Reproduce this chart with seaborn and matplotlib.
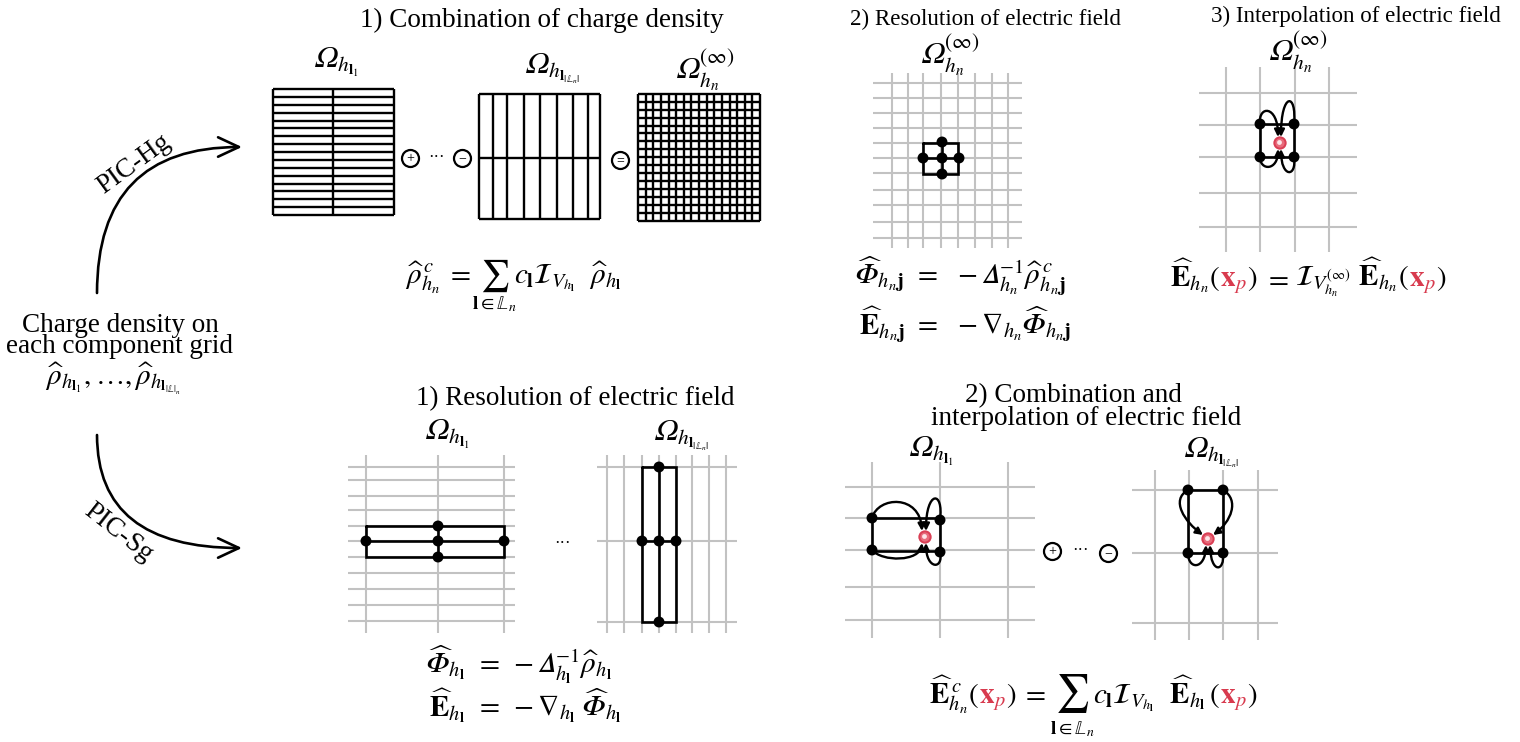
import matplotlib
matplotlib.use("Agg")
import matplotlib.pyplot as plt
import seaborn as sns
from matplotlib.path import Path
from matplotlib.patches import FancyArrowPatch

# ---------------- diagram data (reference pixel space, y down) ----------------
# 1) combination of charge density: three component grids
hg1_cols = [273, 333, 394]
hg1_rows = [89, 97, 105, 113, 121, 128, 136, 144, 152, 160, 168, 176, 184, 191, 199, 207, 215]
hg2_cols = [479, 493, 507, 524, 540, 557, 573, 588, 600]
hg2_rows = [94, 158, 219]
hg3_cols = [638, 646, 653, 661, 669, 676, 684, 691, 699, 707, 714, 722, 730, 737, 745, 752, 760]
hg3_rows = [94, 102, 110, 118, 126, 133, 141, 149, 157, 165, 173, 181, 189, 197, 205, 213, 221]

# 2) resolution on the full grid
res_cols = [892, 908, 923, 941, 958, 975, 992, 1008]
res_rows = [83, 98, 113, 128, 143, 158, 173, 190, 205, 222, 238]
res_node_x = [942, 942, 942, 923, 959]
res_node_y = [142, 158, 174, 158, 158]

# 3) interpolation on the full grid
int_cols = [1226, 1260, 1295, 1329]
int_rows = [93, 125, 157, 193, 227]
int_node_x = [1260, 1294, 1260, 1294]
int_node_y = [124, 124, 157, 157]
int_particle = (1280, 143)

# PIC-Sg 1) resolution on each component grid
sg1_cols = [366, 438, 504]
sg1_rows = [467, 480, 496, 510, 526, 541, 557, 573, 589, 605, 621]
sg1_node_x = [366, 438, 504, 438, 438]
sg1_node_y = [541, 541, 541, 526, 557]
sg2_cols = [607, 624, 642, 659, 676, 692, 709, 726]
sg2_rows = [467, 541, 622]
sg2_node_x = [659, 642, 659, 676, 659]
sg2_node_y = [467, 541, 541, 541, 622]

# PIC-Sg 2) combination + interpolation
ci1_cols = [872, 940, 1008]
ci1_rows = [487, 518, 550, 587, 620]
ci1_node_x = [872, 940, 872, 940]
ci1_node_y = [518, 520, 550, 552]
ci1_particle = (925, 537)
ci2_cols = [1155, 1189, 1223, 1258]
ci2_rows = [490, 553, 623]
ci2_node_x = [1188, 1223, 1188, 1223]
ci2_node_y = [490, 490, 553, 553]
ci2_particle = (1208, 539)

titles = ["1) Combination of charge density", "2) Resolution of electric field",
          "3) Interpolation of electric field", "1) Resolution of electric field",
          "2) Combination and", "interpolation of electric field"]
source_text = "Charge density on\neach component grid"

OM = "\U0001D6FA"   # italic capital omega
PH = "\U0001D6F7"   # italic capital phi
DL = "\U0001D6E5"   # italic capital delta

INK = "black"
GREY = "#c2c2c2"
RED = "#d83a4e"

sns.set_theme(style="white")
plt.rcParams["font.family"] = ["Liberation Serif", "DejaVu Serif"]
plt.rcParams["mathtext.fontset"] = "stix"
plt.rcParams["text.color"] = "black"

fig = plt.figure(figsize=(15.2, 7.42), dpi=100)
ax = fig.add_axes([0, 0, 1, 1])
ax.set_xlim(0, 1520)
ax.set_ylim(742, 0)
ax.axis("off")

TS = 19.5
FS = 21
OS = 22


def grid(cols, rows, xspan, yspan, color, lw):
    ax.vlines(cols, yspan[0], yspan[1], color=color, lw=lw, zorder=1)
    ax.hlines(rows, xspan[0], xspan[1], color=color, lw=lw, zorder=1)


def nodes(xs, ys):
    sns.scatterplot(x=xs, y=ys, color=INK, s=62, edgecolor="none", legend=False, ax=ax, zorder=5)


def particle(p):
    ax.scatter([p[0]], [p[1]], s=92, color="#da3f55", zorder=6, edgecolor="none")
    ax.scatter([p[0]], [p[1]], s=44, color="#e86c7c", zorder=7, edgecolor="none")
    ax.scatter([p[0] - 0.5], [p[1] - 0.5], s=12, color="#fde6e9", zorder=8, edgecolor="none")


def box(x0, x1, y0, y1, lw=1.9):
    ax.plot([x0, x1, x1, x0, x0], [y0, y0, y1, y1, y0], color=INK, lw=lw, zorder=3,
            solid_joinstyle="miter")


def seg(xs, ys):
    ax.plot(xs, ys, color=INK, lw=1.9, zorder=3)


def curve(p0, c1, c2, p1):
    path = Path([p0, c1, c2, p1], [Path.MOVETO, Path.CURVE4, Path.CURVE4, Path.CURVE4])
    ax.add_patch(FancyArrowPatch(path=path, arrowstyle="-|>,head_length=0.6,head_width=0.3",
                                 mutation_scale=7, lw=1.7, color=INK, zorder=4))


def op(x, y, sym):
    ax.scatter([x], [y], s=150, facecolor="white", edgecolor=INK, linewidth=1.6, zorder=5)
    ax.text(x, y + 0.5, sym, fontsize=10, ha="center", va="center", zorder=6)


def P(s, c=INK, fs=FS, gap=0, dy=0, va="baseline"):
    return (s, c, fs, gap, dy, va)


def seg_text(x0, y, parts, ha="center"):
    objs = [ax.text(0, y + dy, s, color=c, fontsize=fs, va=va, ha="left")
            for s, c, fs, gap, dy, va in parts]
    r = fig.canvas.get_renderer()
    sx = ax.transData.transform((1, 0))[0] - ax.transData.transform((0, 0))[0]
    widths = [o.get_window_extent(r).width / sx for o in objs]
    gaps = [p[3] for p in parts]
    total = sum(widths) + sum(gaps)
    x = x0 - total / 2 if ha == "center" else x0
    spans = []
    for o, w, g in zip(objs, widths, gaps):
        x += g
        o.set_x(x)
        spans.append((x, w))
        x += w
    return spans


# ---------------- titles ----------------
ax.text(542, 27, titles[0], fontsize=TS, ha="center", va="baseline")
ax.text(985, 25, titles[1], fontsize=16.6, ha="center", va="baseline")
ax.text(1356, 22, titles[2], fontsize=16.6, ha="center", va="baseline")
ax.text(575, 405, titles[3], fontsize=TS, ha="center", va="baseline")
ax.text(1073, 402, titles[4], fontsize=TS, ha="center", va="baseline")
ax.text(1086, 425, titles[5], fontsize=TS, ha="center", va="baseline")

# ---------------- left: source + two routes ----------------
ax.text(120, 353, source_text, fontsize=TS, ha="center", va="baseline",
        multialignment="center", linespacing=0.8)
ax.text(113, 385, r"$\widehat{\rho}_{h_{\mathbf{l}_1}},\ldots,\widehat{\rho}_{h_{\mathbf{l}_{|\mathbb{L}|_n}}}$",
        fontsize=FS, ha="center", va="baseline")
arrow_kw = dict(arrowstyle="->,head_length=0.75,head_width=0.35", lw=1.9, color=INK,
                shrinkA=0, shrinkB=0, mutation_scale=20)
ax.annotate("", xy=(242, 147), xytext=(97, 293),
            arrowprops=dict(connectionstyle="angle3,angleA=90,angleB=0", **arrow_kw))
ax.annotate("", xy=(242, 548), xytext=(97, 435),
            arrowprops=dict(connectionstyle="angle3,angleA=90,angleB=0", **arrow_kw))
ax.text(134, 164, "PIC-Hg", fontsize=TS, rotation=36, ha="center", va="center")
ax.text(118, 533, "PIC-Sg", fontsize=TS, rotation=-38, ha="center", va="center")

# ---------------- PIC-Hg 1) combination ----------------
grid(hg1_cols, hg1_rows, (273, 394), (89, 215), INK, 1.7)
grid(hg2_cols, hg2_rows, (479, 600), (94, 219), INK, 1.7)
grid(hg3_cols, hg3_rows, (638, 760), (94, 221), INK, 1.7)
op(410, 158, "+")
ax.text(437, 158, "···", fontsize=12, ha="center", va="center")
op(462, 158, "−")
op(620, 160, "=")
ax.text(336, 68, r"$\mathrm{" + OM + r"}_{h_{\mathbf{l}_1}}$", fontsize=OS, ha="center", va="baseline")
ax.text(552, 73, r"$\mathrm{" + OM + r"}_{h_{\mathbf{l}_{|\mathbb{L}_n|}}}$", fontsize=OS, ha="center", va="baseline")
ax.text(705, 80, r"$\mathrm{" + OM + r"}^{(\infty)}_{h_n}$", fontsize=OS, ha="center", va="baseline")
sp = seg_text(513, 283, [P(r"$\widehat{\rho}^{\,c}_{h_n}\;=$"),
                         P(r"$\sum$", fs=23, gap=9, dy=-7, va="center"),
                         P(r"$c_{\mathbf{l}}\mathcal{I}_{V_{h_{\mathbf{l}}}}\ \ \widehat{\rho}_{h_{\mathbf{l}}}$", gap=4)])
ax.text(sp[1][0] + sp[1][1] / 2, 309, r"$\mathbf{l}\in\mathbb{L}_n$", fontsize=14, ha="center", va="baseline")

# ---------------- PIC-Hg 2) resolution ----------------
grid(res_cols, res_rows, (873, 1022), (73, 248), GREY, 1.5)
box(923, 958, 143, 174)
seg([923, 959], [158, 158])
seg([942, 942], [142, 174])
nodes(res_node_x, res_node_y)
ax.text(950, 65, r"$\mathrm{" + OM + r"}^{(\infty)}_{h_n}$", fontsize=OS, ha="center", va="baseline")
ax.text(904, 284, r"$\widehat{\mathrm{" + PH + r"}}_{h_n\mathbf{j}}$", fontsize=FS, ha="right", va="baseline")
ax.text(913, 284, r"$=\;\;-\mathrm{" + DL + r"}^{-1}_{h_n}\widehat{\rho}^{\,c}_{h_n\mathbf{j}}$",
        fontsize=FS, ha="left", va="baseline")
ax.text(904, 334, r"$\widehat{\mathbf{E}}_{h_n\mathbf{j}}$", fontsize=FS, ha="right", va="baseline")
ax.text(913, 334, r"$=\;\;-\nabla_{h_n}\widehat{\mathrm{" + PH + r"}}_{h_n\mathbf{j}}$",
        fontsize=FS, ha="left", va="baseline")

# ---------------- PIC-Hg 3) interpolation ----------------
grid(int_cols, int_rows, (1199, 1357), (67, 252), GREY, 1.5)
box(1260, 1294, 124, 157)
nodes(int_node_x, int_node_y)
curve((1260, 124), (1258, 105), (1278, 105), (1278, 137))
curve((1294, 124), (1297, 92), (1281, 92), (1281, 137))
curve((1260, 157), (1260, 171), (1278, 171), (1278, 149))
curve((1294, 157), (1297, 178), (1281, 178), (1281, 149))
particle(int_particle)
ax.text(1298, 62, r"$\mathrm{" + OM + r"}^{(\infty)}_{h_n}$", fontsize=OS, ha="center", va="baseline")
seg_text(1308, 286, [P(r"$\widehat{\mathbf{E}}_{h_n}($"), P(r"$\mathbf{x}_p$", c=RED), P(r"$)$"),
                     P(r"$=$", gap=7),
                     P(r"$\mathcal{I}_{V^{(\infty)}_{h_n}}\ \widehat{\mathbf{E}}_{h_n}($", gap=7),
                     P(r"$\mathbf{x}_p$", c=RED), P(r"$)$")])

# ---------------- PIC-Sg 1) resolution ----------------
grid(sg1_cols, sg1_rows, (348, 515), (455, 633), GREY, 1.5)
box(366, 504, 526, 557)
seg([366, 504], [541, 541])
seg([438, 438], [526, 557])
nodes(sg1_node_x, sg1_node_y)
grid(sg2_cols, sg2_rows, (597, 737), (455, 633), GREY, 1.5)
box(642, 676, 467, 622)
seg([659, 659], [467, 622])
seg([642, 676], [541, 541])
nodes(sg2_node_x, sg2_node_y)
ax.text(563, 544, "···", fontsize=12, ha="center", va="center")
ax.text(447, 440, r"$\mathrm{" + OM + r"}_{h_{\mathbf{l}_1}}$", fontsize=OS, ha="center", va="baseline")
ax.text(681, 440, r"$\mathrm{" + OM + r"}_{h_{\mathbf{l}_{|\mathbb{L}_n|}}}$", fontsize=OS, ha="center", va="baseline")
ax.text(465, 673, r"$\widehat{\mathrm{" + PH + r"}}_{h_{\mathbf{l}}}$", fontsize=FS, ha="right", va="baseline")
ax.text(475, 673, r"$=\;-\mathrm{" + DL + r"}^{-1}_{h_{\mathbf{l}}}\widehat{\rho}_{h_{\mathbf{l}}}$",
        fontsize=FS, ha="left", va="baseline")
ax.text(465, 716, r"$\widehat{\mathbf{E}}_{h_{\mathbf{l}}}$", fontsize=FS, ha="right", va="baseline")
ax.text(475, 716, r"$=\;-\nabla_{h_{\mathbf{l}}}\ \widehat{\mathrm{" + PH + r"}}_{h_{\mathbf{l}}}$",
        fontsize=FS, ha="left", va="baseline")

# ---------------- PIC-Sg 2) combination + interpolation ----------------
grid(ci1_cols, ci1_rows, (845, 1035), (462, 638), GREY, 1.5)
box(872, 940, 518, 551)
nodes(ci1_node_x, ci1_node_y)
curve((872, 518), (878, 496), (920, 494), (922, 531))
curve((940, 520), (944, 490), (926, 490), (926, 531))
curve((872, 550), (882, 562), (920, 562), (922, 543))
curve((940, 552), (944, 570), (926, 570), (926, 543))
particle(ci1_particle)
op(1052, 551, "+")
ax.text(1080, 551, "···", fontsize=12, ha="center", va="center")
op(1108, 553, "−")
grid(ci2_cols, ci2_rows, (1132, 1278), (470, 640), GREY, 1.5)
box(1188, 1223, 490, 553)
nodes(ci2_node_x, ci2_node_y)
curve((1188, 490), (1170, 500), (1185, 522), (1203, 535))
curve((1223, 490), (1240, 500), (1231, 522), (1213, 535))
curve((1188, 553), (1188, 570), (1205, 570), (1206, 545))
curve((1223, 553), (1225, 572), (1211, 574), (1210, 545))
particle(ci2_particle)
ax.text(931, 457, r"$\mathrm{" + OM + r"}_{h_{\mathbf{l}_1}}$", fontsize=OS, ha="center", va="baseline")
ax.text(1211, 457, r"$\mathrm{" + OM + r"}_{h_{\mathbf{l}_{|\mathbb{L}_n|}}}$", fontsize=OS, ha="center", va="baseline")
sp = seg_text(1093, 703, [P(r"$\widehat{\mathbf{E}}^{\,c}_{h_n}($"), P(r"$\mathbf{x}_p$", c=RED),
                          P(r"$)\;=$"), P(r"$\sum$", fs=27, gap=9, dy=-9, va="center"),
                          P(r"$c_{\mathbf{l}}\mathcal{I}_{V_{h_{\mathbf{l}}}}\ \ \widehat{\mathbf{E}}_{h_{\mathbf{l}}}\,($", gap=4),
                          P(r"$\mathbf{x}_p$", c=RED), P(r"$)$")])
ax.text(sp[3][0] + sp[3][1] / 2, 734, r"$\mathbf{l}\in\mathbb{L}_n$", fontsize=14, ha="center", va="baseline")

fig.savefig("out.png", dpi=100)
